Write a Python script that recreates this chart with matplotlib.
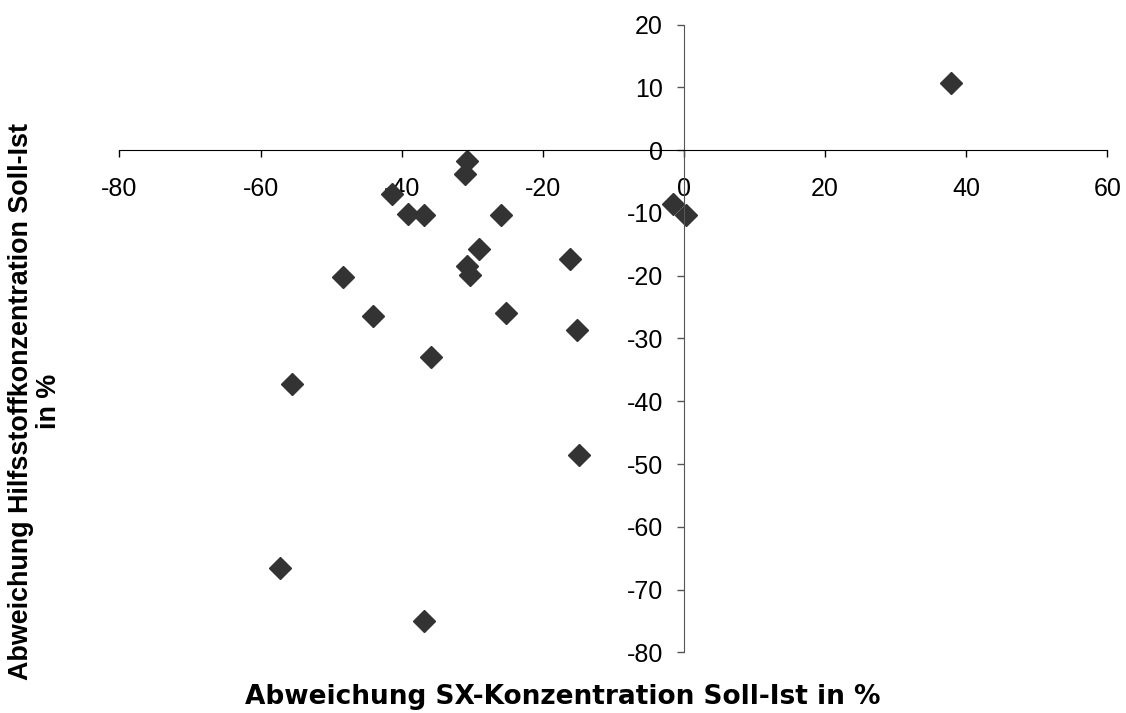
import matplotlib
matplotlib.use('Agg')
import matplotlib.pyplot as plt

plt.rcParams['font.family'] = ['Liberation Sans', 'DejaVu Sans']
plt.rcParams['axes.unicode_minus'] = False

# Abweichung SX-Konzentration (x) / Hilfsstoffkonzentration (y), Soll-Ist in %
sx_abw = [37.9, -30.8, -31.1, -41.4, -39.1, -36.9, -25.9, -29.0, -30.7, -30.3,
          -48.3, -44.1, -25.2, -16.2, -15.2, -35.9, -55.5, -14.9, -57.3, -36.9,
          -1.55, 0.34]
hs_abw = [10.7, -1.7, -3.8, -6.9, -10.1, -10.4, -10.4, -15.8, -18.5, -19.9,
          -20.2, -26.4, -26.0, -17.4, -28.7, -33.0, -37.2, -48.6, -66.5, -75.0,
          -8.6, -10.4]

x_ticks = [-80, -60, -40, -20, 0, 20, 40, 60]
y_ticks = [20, 10, 0, -10, -20, -30, -40, -50, -60, -70, -80]

fig = plt.figure(figsize=(11.26, 7.13), dpi=100)
ax = fig.add_axes([0.1061, 0.0851, 0.8773, 0.8803])

ax.plot(sx_abw, hs_abw, linestyle='none', marker='D', markersize=11,
        color='#333333', markeredgecolor='#333333', clip_on=False)

ax.set_xlim(-80, 60)
ax.set_ylim(-80, 20)
ax.set_xticks(x_ticks)
ax.set_yticks(y_ticks)

for s in ['top', 'right']:
    ax.spines[s].set_visible(False)
ax.spines['left'].set_position(('data', 0))
ax.spines['bottom'].set_position(('data', 0))
ax.spines['left'].set_color('#555555')
ax.spines['bottom'].set_color('black')

ax.tick_params(axis='x', direction='out', length=5, width=1, pad=14,
               labelsize=18, color='black')
ax.tick_params(axis='y', direction='out', length=5, width=1, pad=10,
               labelsize=18, color='#555555')

fig.text(563 / 1126, 1 - 697 / 713, 'Abweichung SX-Konzentration Soll-Ist in %',
         ha='center', va='center', fontsize=19, fontweight='bold',
         family=['DejaVu Sans'])
fig.text(35 / 1126, 1 - 401 / 713, 'Abweichung Hilfsstoffkonzentration Soll-Ist\nin %',
         ha='center', va='center', rotation=90, fontsize=19.4, fontweight='bold',
         multialignment='center', linespacing=1.1)

fig.savefig('out.png', dpi=100)
